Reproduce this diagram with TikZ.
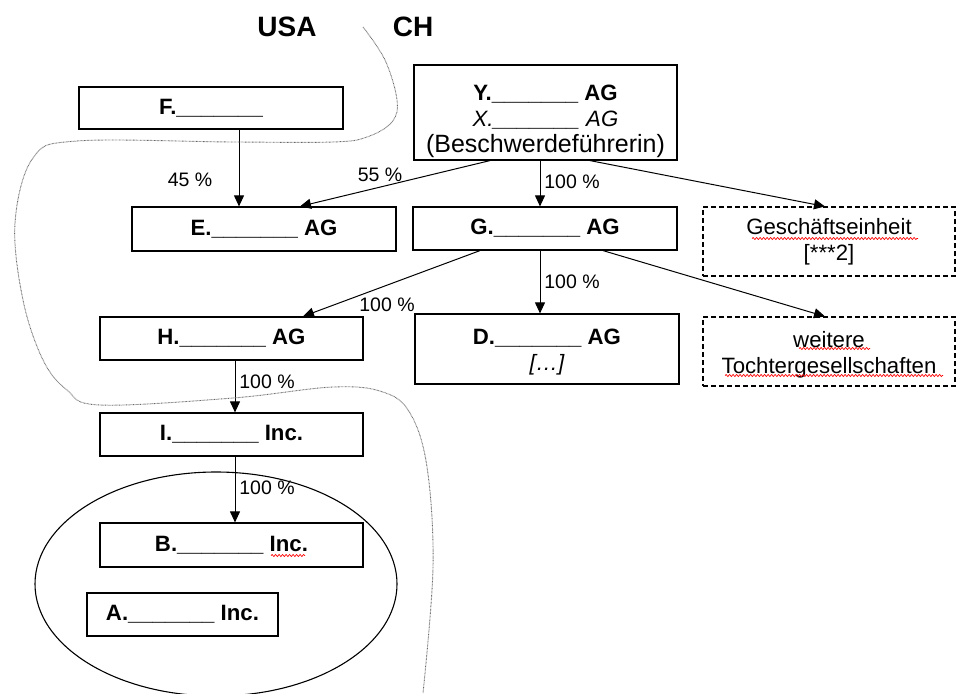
\documentclass[tikz,border=0pt]{standalone}
\usepackage{fontspec}
\setmainfont{Liberation Sans}
\usetikzlibrary{arrows.meta,decorations.pathmorphing,shapes.geometric}
\newcommand\blankline{\_\_\_\_\_\_\_}
\begin{document}
\begin{tikzpicture}[x=1pt,y=-1pt,
  box/.style={draw, line width=1.2pt, inner sep=0pt, align=center,
    font=\fontsize{22.2}{26}\selectfont},
  dbox/.style={box, line width=1.1pt, dash pattern=on 5pt off 3pt},
  txt/.style={inner sep=0pt, align=center, font=\fontsize{22.2}{26}\selectfont},
  lbl/.style={font=\fontsize{19.5}{22}\selectfont, inner sep=0pt},
  arr/.style={draw, line width=1pt, -{Triangle[length=11pt,width=10pt]}},
  border/.style={draw=black!60, line width=0.9pt, dash pattern=on 0.7pt off 0.7pt},
  wavy/.style={draw=red, line width=0.7pt, decorate,
    decoration={snake, amplitude=1pt, segment length=3.5pt}},
  country/.style={font=\fontsize{28}{32}\selectfont\bfseries, inner sep=0pt}
]
\useasboundingbox (0,0) rectangle (957,693);

% country labels
\node[country] (usa) at (287,27) {USA};
\node[country] (ch) at (413,27) {CH};

% ellipse around A and B
\node[draw, ellipse, line width=1.1pt, minimum width=362pt, minimum height=224pt] (ell) at (216,584) {};

% boxes
\node[box, minimum width=264pt, minimum height=42pt] (F) at (211,108) {\bfseries F.\blankline};
\node[box, minimum width=263pt, minimum height=95pt] (Y) at (545.5,112.5) {};
\node[txt] (Yt) at ([yshift=-9pt]Y.center)
  {{\bfseries Y.\blankline{} AG}\\{\itshape X.\blankline{} AG}\\{\fontsize{25}{26}\selectfont (Beschwerdeführerin)}};
\node[box, minimum width=264pt, minimum height=44pt] (E) at (264,229) {\bfseries E.\blankline{} AG};
\node[box, minimum width=264pt, minimum height=43pt] (G) at (545,228.5) {\bfseries G.\blankline{} AG};
\node[dbox, minimum width=252pt, minimum height=69pt] (GE) at (829,241.5) {Geschäftseinheit\\{[}***2]};
\node[box, minimum width=263pt, minimum height=43pt] (H) at (231.5,338.5) {\bfseries H.\blankline{} AG};
\node[box, minimum width=264pt, minimum height=70pt] (D) at (547,349) {};
\node[txt] (Dt) at ([yshift=-3pt]D.center) {{\bfseries D.\blankline{} AG}\\{\itshape […]}};
\node[dbox, minimum width=252pt, minimum height=69pt] (WT) at (829,351.5) {};
\node[txt] (WTt) at ([yshift=-3pt]WT.center) {weitere\\Tochtergesellschaften};
\node[box, minimum width=263pt, minimum height=43pt] (I) at (231.5,434.5) {\bfseries I.\blankline{} Inc.};
\node[box, minimum width=263pt, minimum height=44pt] (B) at (231.5,545) {\bfseries B.\blankline{} Inc.};
\node[box, minimum width=191pt, minimum height=43pt] (A) at (182.5,614.5) {\bfseries A.\blankline{} Inc.};

% arrows
\draw[arr] ([xshift=28pt]F.south) -- ([xshift=-25pt]E.north);
\draw[arr] ([xshift=-55.5pt]Y.south) -- ([xshift=36pt]E.north);
\draw[arr] ([xshift=-5.5pt]Y.south) -- ([xshift=-5pt]G.north);
\draw[arr] ([xshift=44.5pt]Y.south) -- ([xshift=-4pt]GE.north);
\draw[arr] ([xshift=-65pt]G.south) -- ([xshift=71.5pt]H.north);
\draw[arr] ([xshift=-5pt]G.south) -- ([xshift=-7pt]D.north);
\draw[arr] ([xshift=58pt]G.south) -- ([xshift=-4pt]WT.north);
\draw[arr] ([xshift=3.5pt]H.south) -- ([xshift=3.5pt]I.north);
\draw[arr] ([xshift=3.5pt]I.south) -- ([xshift=3.5pt]B.north);

% percentage labels
\node[lbl] (l45) at (190,180) {45 \%};
\node[lbl] (l55) at (380,175) {55 \%};
\node[lbl] (lYG) at (572,182) {100 \%};
\node[lbl] (lGD) at (572,282) {100 \%};
\node[lbl] (lGH) at (387,305) {100 \%};
\node[lbl] (lHI) at (267,382) {100 \%};
\node[lbl] (lIB) at (267,488) {100 \%};

% USA / CH border
\draw[border] plot[smooth, tension=0.6] coordinates {
  (363,27) (385,60) (397,100) (392,122) (367,137) (333,142) (233,142)
  (77,141) (33,158) (15,223) (23,300) (43,360) (67,390) (100,405)
  (233,398) (333,387) (383,392) (410,413) (427,467) (433,567) (423,693)};

% spell-check underlines
\draw[wavy] (752,238.5) -- (918,238.5);
\draw[wavy] (799,348.5) -- (870,348.5);
\draw[wavy] (725,375.5) -- (943,375.5);
\draw[wavy] (271,555.5) -- (305,555.5);
\end{tikzpicture}
\end{document}
